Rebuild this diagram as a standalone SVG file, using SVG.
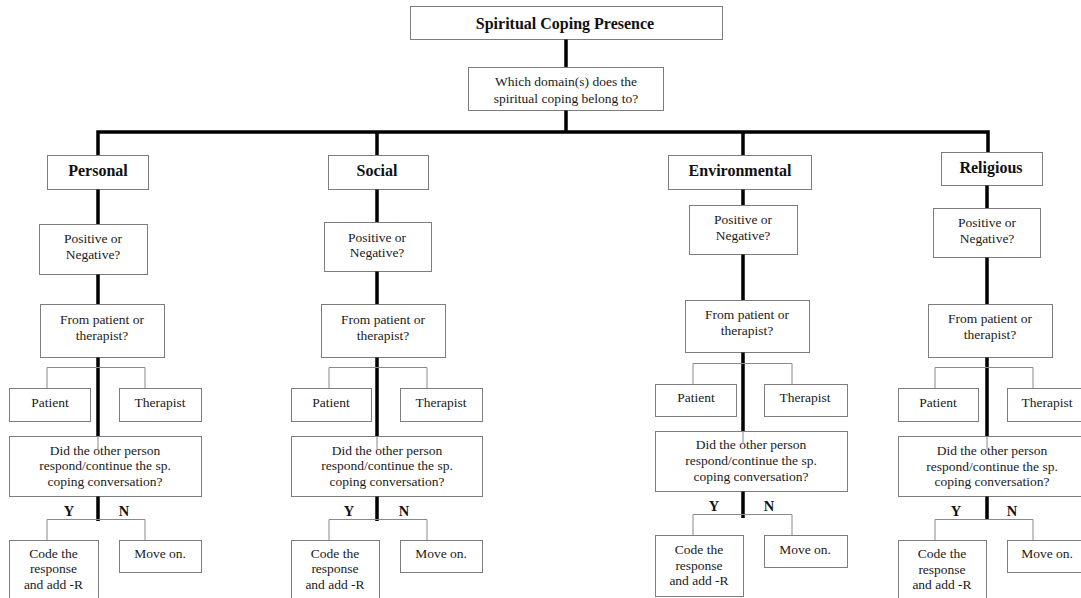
<svg xmlns="http://www.w3.org/2000/svg" width="1081" height="598" viewBox="0 0 1081 598">
  <style>
    .box { fill: #ffffff; stroke: #7d7d7d; stroke-width: 1; }
    .thick { fill: none; stroke: #000000; stroke-width: 3.5; stroke-linejoin: miter; }
    .thin { fill: none; stroke: #8a8a8a; stroke-width: 1; }
    .t { font-family: "Liberation Serif", "Times New Roman", serif; font-size: 13.5px; fill: #1a1a1a; text-anchor: middle; }
    .h { font-family: "Liberation Serif", "Times New Roman", serif; font-size: 16px; font-weight: bold; fill: #111111; text-anchor: middle; }
    .yn { font-family: "Liberation Serif", "Times New Roman", serif; font-size: 14.5px; font-weight: bold; fill: #111111; text-anchor: middle; }
  </style>

  <rect width="1081" height="598" fill="#ffffff"/>

  <!-- root -->
  <g id="root">
    <rect class="box" x="410.5" y="6.5" width="312" height="33"/>
    <text class="h" x="565" y="29">Spiritual Coping Presence</text>
  </g>
  <g id="domain-question">
    <rect class="box" x="468.5" y="67.5" width="195" height="43"/>
    <text class="t" x="566" y="86">Which domain(s) does the</text>
    <text class="t" x="566" y="103">spiritual coping belong to?</text>
  </g>

  <!-- Personal column -->
  <g id="personal">
    <rect class="box" x="47.5" y="155.5" width="101" height="34"/>
    <text class="h" x="98" y="175.5">Personal</text>
  </g>
  <g id="personal-valence">
    <rect class="box" x="39.5" y="224.5" width="108" height="50"/>
    <text class="t" x="93" y="242.5">Positive or</text>
    <text class="t" x="93" y="258.5">Negative?</text>
  </g>
  <g id="personal-source">
    <rect class="box" x="40.5" y="304.5" width="124" height="53"/>
    <text class="t" x="102" y="323.5">From patient or</text>
    <text class="t" x="102" y="339.5">therapist?</text>
  </g>
  <g id="personal-patient">
    <rect class="box" x="9.5" y="388.5" width="81" height="33"/>
    <text class="t" x="50" y="407">Patient</text>
  </g>
  <g id="personal-therapist">
    <rect class="box" x="119.5" y="388.5" width="82" height="33"/>
    <text class="t" x="160" y="407">Therapist</text>
  </g>
  <g id="personal-response">
    <rect class="box" x="9.5" y="436.5" width="192" height="60"/>
    <text class="t" x="105" y="454.5">Did the other person</text>
    <text class="t" x="105" y="470">respond/continue the sp.</text>
    <text class="t" x="105" y="485.5">coping conversation?</text>
  </g>
  <g id="personal-code">
    <rect class="box" x="9.5" y="540.5" width="89" height="70"/>
    <text class="t" x="53.5" y="557.5">Code the</text>
    <text class="t" x="53.5" y="573">response</text>
    <text class="t" x="53.5" y="588.5">and add -R</text>
  </g>
  <g id="personal-move">
    <rect class="box" x="119.5" y="540.5" width="82" height="32"/>
    <text class="t" x="160" y="557.5">Move on.</text>
  </g>

  <!-- Social column -->
  <g id="social">
    <rect class="box" x="328.5" y="155.5" width="100" height="34"/>
    <text class="h" x="377" y="175.5">Social</text>
  </g>
  <g id="social-valence">
    <rect class="box" x="324.5" y="222.5" width="107" height="49"/>
    <text class="t" x="377" y="241.5">Positive or</text>
    <text class="t" x="377" y="256.5">Negative?</text>
  </g>
  <g id="social-source">
    <rect class="box" x="321.5" y="304.5" width="124" height="53"/>
    <text class="t" x="383" y="323.5">From patient or</text>
    <text class="t" x="383" y="339.5">therapist?</text>
  </g>
  <g id="social-patient">
    <rect class="box" x="291.5" y="388.5" width="80" height="33"/>
    <text class="t" x="331" y="407">Patient</text>
  </g>
  <g id="social-therapist">
    <rect class="box" x="400.5" y="388.5" width="82" height="33"/>
    <text class="t" x="441" y="407">Therapist</text>
  </g>
  <g id="social-response">
    <rect class="box" x="291.5" y="436.5" width="191" height="60"/>
    <text class="t" x="387" y="454.5">Did the other person</text>
    <text class="t" x="387" y="470">respond/continue the sp.</text>
    <text class="t" x="387" y="485.5">coping conversation?</text>
  </g>
  <g id="social-code">
    <rect class="box" x="291.5" y="540.5" width="88" height="70"/>
    <text class="t" x="335" y="557.5">Code the</text>
    <text class="t" x="335" y="573">response</text>
    <text class="t" x="335" y="588.5">and add -R</text>
  </g>
  <g id="social-move">
    <rect class="box" x="400.5" y="540.5" width="82" height="32"/>
    <text class="t" x="441" y="557.5">Move on.</text>
  </g>

  <!-- Environmental column -->
  <g id="environmental">
    <rect class="box" x="668.5" y="155.5" width="143" height="34"/>
    <text class="h" x="740" y="175.5">Environmental</text>
  </g>
  <g id="environmental-valence">
    <rect class="box" x="689.5" y="205.5" width="108" height="49"/>
    <text class="t" x="743" y="223.5">Positive or</text>
    <text class="t" x="743" y="239.5">Negative?</text>
  </g>
  <g id="environmental-source">
    <rect class="box" x="685.5" y="300.5" width="124" height="52"/>
    <text class="t" x="747" y="318.5">From patient or</text>
    <text class="t" x="747" y="335">therapist?</text>
  </g>
  <g id="environmental-patient">
    <rect class="box" x="655.5" y="384.5" width="81" height="32"/>
    <text class="t" x="696" y="401.5">Patient</text>
  </g>
  <g id="environmental-therapist">
    <rect class="box" x="764.5" y="384.5" width="83" height="32"/>
    <text class="t" x="805" y="401.5">Therapist</text>
  </g>
  <g id="environmental-response">
    <rect class="box" x="655.5" y="431.5" width="192" height="60"/>
    <text class="t" x="751" y="448.5">Did the other person</text>
    <text class="t" x="751" y="465">respond/continue the sp.</text>
    <text class="t" x="751" y="480.5">coping conversation?</text>
  </g>
  <g id="environmental-code">
    <rect class="box" x="655.5" y="535.5" width="88" height="61"/>
    <text class="t" x="699" y="553.5">Code the</text>
    <text class="t" x="699" y="569.5">response</text>
    <text class="t" x="699" y="584.5">and add -R</text>
  </g>
  <g id="environmental-move">
    <rect class="box" x="764.5" y="535.5" width="83" height="32"/>
    <text class="t" x="805" y="553.5">Move on.</text>
  </g>

  <!-- Religious column -->
  <g id="religious">
    <rect class="box" x="941.5" y="152.5" width="101" height="33"/>
    <text class="h" x="991" y="172.5">Religious</text>
  </g>
  <g id="religious-valence">
    <rect class="box" x="933.5" y="208.5" width="107" height="49"/>
    <text class="t" x="987" y="226.5">Positive or</text>
    <text class="t" x="987" y="242.5">Negative?</text>
  </g>
  <g id="religious-source">
    <rect class="box" x="928.5" y="304.5" width="124" height="53"/>
    <text class="t" x="990" y="322.5">From patient or</text>
    <text class="t" x="990" y="338.5">therapist?</text>
  </g>
  <g id="religious-patient">
    <rect class="box" x="898.5" y="388.5" width="80" height="33"/>
    <text class="t" x="938" y="406.5">Patient</text>
  </g>
  <g id="religious-therapist">
    <rect class="box" x="1007.5" y="388.5" width="90" height="33"/>
    <text class="t" x="1047" y="406.5">Therapist</text>
  </g>
  <g id="religious-response">
    <rect class="box" x="898.5" y="436.5" width="200" height="60"/>
    <text class="t" x="992" y="454.5">Did the other person</text>
    <text class="t" x="992" y="470.5">respond/continue the sp.</text>
    <text class="t" x="992" y="485.5">coping conversation?</text>
  </g>
  <g id="religious-code">
    <rect class="box" x="898.5" y="540.5" width="88" height="70"/>
    <text class="t" x="942" y="557.5">Code the</text>
    <text class="t" x="942" y="574">response</text>
    <text class="t" x="942" y="589">and add -R</text>
  </g>
  <g id="religious-move">
    <rect class="box" x="1007.5" y="540.5" width="90" height="32"/>
    <text class="t" x="1047" y="557.5">Move on.</text>
  </g>

  <!-- connectors: trunk lines between boxes, branch brackets, Y/N labels -->
  <g id="connectors">
    <!-- root to domain question to the domain bar -->
    <path class="thick" d="M566,39.5 V67"/>
    <path class="thick" d="M566,110.5 V132"/>
    <path class="thick" d="M98,155 V132 H988 V152"/>
    <path class="thick" d="M377,132 V155"/>
    <path class="thick" d="M743,132 V155"/>

    <!-- Personal trunk -->
    <path class="thick" d="M98,189.5 V224 M98,274.5 V304 M98,357.5 V436 M98,496.5 V521"/>
    <path class="thin" d="M98,436 V449"/>
    <path class="thin" d="M47,388 V367.5 H145 V388"/>
    <path class="thin" d="M47,540 V519.5 H145 V540"/>

    <!-- Social trunk -->
    <path class="thick" d="M377,189.5 V222 M377,271.5 V304 M377,357.5 V436 M377,496.5 V521"/>
    <path class="thin" d="M377,436 V449"/>
    <path class="thin" d="M329,388 V367.5 H427 V388"/>
    <path class="thin" d="M329,540 V519.5 H427 V540"/>

    <!-- Environmental trunk -->
    <path class="thick" d="M743,189.5 V205 M743,254.5 V300 M743,352.5 V431 M743,491.5 V518"/>
    <path class="thin" d="M743,431 V444"/>
    <path class="thin" d="M693,384 V363.5 H792 V384"/>
    <path class="thin" d="M693,535 V514.5 H792 V535"/>

    <!-- Religious trunk -->
    <path class="thick" d="M987,185.5 V208 M987,257.5 V304 M987,357.5 V436 M987,496.5 V520"/>
    <path class="thin" d="M987,436 V449"/>
    <path class="thin" d="M935,388 V367.5 H1033 V388"/>
    <path class="thin" d="M935,540 V519.5 H1033 V540"/>

    <!-- branch labels -->
    <text class="yn" x="69" y="516">Y</text>
    <text class="yn" x="124" y="516">N</text>
    <text class="yn" x="349" y="516">Y</text>
    <text class="yn" x="404" y="516">N</text>
    <text class="yn" x="714" y="511">Y</text>
    <text class="yn" x="769" y="511">N</text>
    <text class="yn" x="956" y="516">Y</text>
    <text class="yn" x="1012" y="516">N</text>
  </g>
</svg>
